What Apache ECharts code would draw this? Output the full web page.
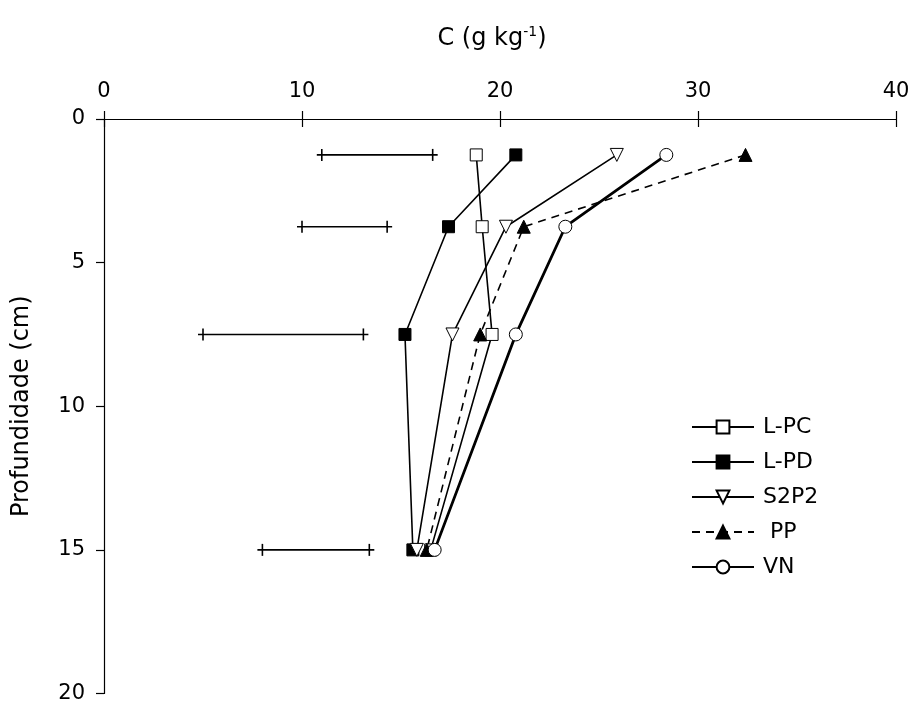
<!DOCTYPE html>
<html><head><meta charset="utf-8">
<script src="https://cdn.jsdelivr.net/npm/echarts@6/dist/echarts.min.js"></script>
<style>html,body{margin:0;padding:0;background:#fff}#c{width:914px;height:704px}</style>
</head><body><div id="c"></div>
<script>
var depths = [1.25, 3.75, 7.5, 15];
var LPC  = [18.8, 19.1, 19.6, 16.5];
var LPD  = [20.8, 17.4, 15.2, 15.6];
var S2P2 = [25.9, 20.3, 17.6, 15.8];
var PP   = [32.4, 21.2, 19.0, 16.3];
var VN   = [28.4, 23.3, 20.8, 16.7];
var errLow  = [11.0, 10.0, 5.0, 8.0];
var errHigh = [16.6, 14.3, 13.1, 13.4];
var xTicks = [0, 10, 20, 30, 40];
var yTicks = [0, 5, 10, 15, 20];

var FONT = 'DejaVu Sans';
function pairs(vals){ return vals.map(function(v,i){ return [v, depths[i]]; }); }
var chart = echarts.init(document.getElementById('c'));
function mk(name, vals, symbol, fill, lw, dash, size, rot){
  return {
    name: name, type: 'line', data: pairs(vals),
    symbol: symbol, symbolSize: size, symbolRotate: rot || 0,
    lineStyle: {color:'#000', width: lw, type: dash || 'solid'},
    itemStyle: {color: fill, borderColor:'#000', borderWidth:1},
    emphasis:{disabled:true}, animation:false, z: 3
  };
}
var series = [
  mk('L-PC', LPC, 'rect', '#fff', 1.6, null, 12),
  mk('L-PD', LPD, 'rect', '#000', 1.6, null, 12),
  mk('S2P2', S2P2, 'triangle', '#fff', 1.6, null, 13, 180),
  mk(' PP', PP, 'triangle', '#000', 1.6, [8,6], 13),
  mk('VN', VN, 'circle', '#fff', 2.8, null, 13),
  {
    type:'custom', name:'err', animation:false, silent:true,
    data: errLow.map(function(l,i){ return [l, errHigh[i], depths[i]]; }),
    encode:{x:[0,1], y:2},
    renderItem: function(params, api){
      var a = api.coord([api.value(0), api.value(2)]);
      var b = api.coord([api.value(1), api.value(2)]);
      var st = {stroke:'#000', lineWidth:1.6};
      return {type:'group', children:[
        {type:'line', shape:{x1:a[0]-5,y1:a[1],x2:b[0]+5,y2:b[1]}, style:st},
        {type:'line', shape:{x1:a[0],y1:a[1]-6,x2:a[0],y2:a[1]+6}, style:st},
        {type:'line', shape:{x1:b[0],y1:b[1]-6,x2:b[0],y2:b[1]+6}, style:st}
      ]};
    }
  }
];
chart.setOption({
  backgroundColor:'#fff',
  animation:false,
  grid:{left:104, top:119, width:792, height:575, containLabel:false},
  title:{
    text:'{a|C (g kg}{s|-1}{a|)}', left:487, top:20, textAlign:'center',
    textStyle:{fontWeight:'normal', rich:{a:{fontFamily:FONT, fontSize:24, fontWeight:'normal', color:'#000', verticalAlign:'bottom'}, s:{fontFamily:FONT, fontSize:14, fontWeight:'normal', color:'#000', verticalAlign:'top', padding:[0,0,12,0]}}}
  },
  legend:{
    orient:'vertical', left:686, top:409, itemWidth:62, itemHeight:16, itemGap:9,
    data:['L-PC','L-PD','S2P2',' PP','VN'],
    textStyle:{fontFamily:FONT, fontSize:22, lineHeight:26, color:'#000', padding:[0,0,0,4]},
    selectedMode:false
  },
  xAxis:[{
    type:'value', position:'top', min:0, max:40, interval:10,
    axisLine:{show:true, lineStyle:{color:'#000', width:1.2}},
    axisTick:{show:true, length:8, lineStyle:{color:'#000', width:1.2}},
    axisLabel:{fontFamily:FONT, fontSize:21, color:'#000', margin:17,
      formatter:function(v){ return xTicks.indexOf(v)>=0 ? String(v) : ''; }},
    splitLine:{show:false}
  },{
    type:'value', position:'top', min:0, max:40, interval:10,
    axisLine:{show:false}, axisTick:{show:true, inside:true, length:8, lineStyle:{color:'#000', width:1.2}},
    axisLabel:{show:false}, splitLine:{show:false}
  }],
  yAxis:{
    type:'value', inverse:true, min:0, max:20, interval:5,
    name:'Profundidade (cm)', nameLocation:'middle', nameGap:70, nameRotate:90,
    nameTextStyle:{fontFamily:FONT, fontSize:24, color:'#000'},
    axisLine:{show:true, onZero:false, lineStyle:{color:'#000', width:1.2}},
    axisTick:{show:true, length:8, lineStyle:{color:'#000', width:1.2}},
    axisLabel:{fontFamily:FONT, fontSize:21, color:'#000', margin:19,
      formatter:function(v){ return yTicks.indexOf(v)>=0 ? String(v) : ''; }},
    splitLine:{show:false}
  },
  series: series
});
</script></body></html>
